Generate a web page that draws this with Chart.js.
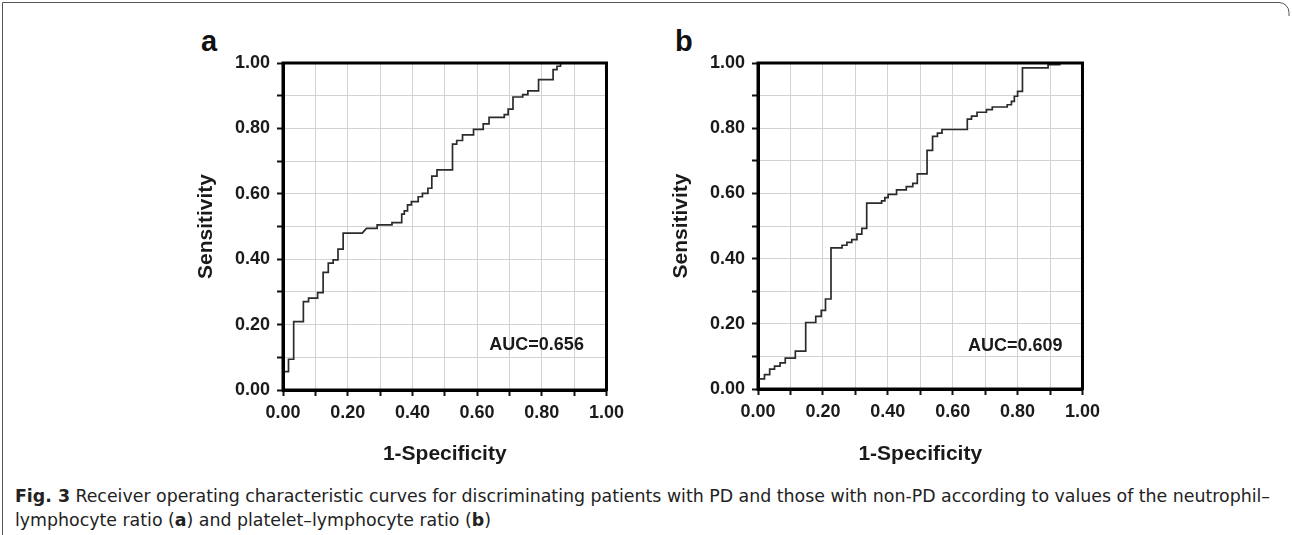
<!DOCTYPE html>
<html><head><meta charset="utf-8">
<script src="https://cdn.jsdelivr.net/npm/chart.js@4.4.1/dist/chart.umd.min.js"></script>
<style>
html,body{margin:0;padding:0;background:#fff;}
body{width:1292px;height:535px;position:relative;overflow:hidden;font-family:"Liberation Sans",Arial,sans-serif;}
#frame{position:absolute;left:0;top:0;}
canvas{position:absolute;}
#ca{left:180px;top:20px;}
#cb{left:655px;top:20px;}
.lbl{position:absolute;font:bold 29px/29px "Liberation Sans",Arial,sans-serif;color:#111;}
#caption{position:absolute;left:15px;top:484px;font-size:17px;line-height:24px;color:#222;white-space:nowrap;
 font-family:"Liberation Sans Narrow","DejaVu Sans Condensed","Roboto Condensed",Roboto,sans-serif;transform-origin:0 0;}
#caption b{font-weight:bold;}
</style>
</head><body>
<svg id="frame" width="1292" height="535"><path d="M2.5 535 L2.5 2.5 L1279 2.5 A10 10 0 0 1 1289 12.5 L1289 16" fill="none" stroke="#555" stroke-width="1"/></svg>
<div class="lbl" style="left:201px;top:27px;">a</div>
<div class="lbl" style="left:675px;top:27px;">b</div>
<canvas id="ca" width="450" height="460"></canvas>
<canvas id="cb" width="451" height="460"></canvas>
<div id="caption"><span id="cl1"><b>Fig. 3</b> Receiver operating characteristic curves for discriminating patients with PD and those with non-PD according to values of the neutrophil–</span><br>lymphocyte ratio (<b>a</b>) and platelet–lymphocyte ratio (<b>b</b>)</div>
<script>
// ---- data ----
const fprA = [0,0,0.017,0.017,0.033,0.033,0.063,0.063,0.079,0.079,0.107,0.107,0.124,0.124,0.140,0.140,0.155,0.155,0.170,0.170,0.186,0.186,0.245,0.258,0.291,0.291,0.337,0.337,0.367,0.367,0.375,0.375,0.385,0.385,0.397,0.397,0.418,0.418,0.431,0.431,0.448,0.448,0.460,0.460,0.476,0.476,0.524,0.524,0.537,0.537,0.555,0.555,0.589,0.589,0.619,0.619,0.637,0.637,0.684,0.684,0.696,0.696,0.711,0.711,0.741,0.741,0.757,0.757,0.790,0.790,0.835,0.835,0.847,0.847,0.858,0.858,1.0];
const tprA = [0,0.056,0.056,0.094,0.094,0.209,0.209,0.270,0.270,0.281,0.281,0.298,0.298,0.360,0.360,0.388,0.388,0.398,0.398,0.431,0.431,0.480,0.480,0.494,0.494,0.505,0.505,0.512,0.512,0.538,0.538,0.548,0.548,0.566,0.566,0.576,0.576,0.591,0.591,0.601,0.601,0.617,0.617,0.654,0.654,0.673,0.673,0.752,0.752,0.763,0.763,0.780,0.780,0.797,0.797,0.814,0.814,0.834,0.834,0.842,0.842,0.859,0.859,0.896,0.896,0.903,0.903,0.915,0.915,0.949,0.949,0.980,0.980,0.990,0.990,1.0,1.0];
const fprB = [0,0,0.020,0.020,0.036,0.036,0.051,0.051,0.068,0.068,0.084,0.084,0.115,0.115,0.147,0.147,0.178,0.178,0.195,0.195,0.208,0.208,0.225,0.225,0.259,0.259,0.274,0.274,0.289,0.289,0.305,0.305,0.320,0.320,0.335,0.335,0.381,0.381,0.391,0.391,0.401,0.401,0.427,0.427,0.457,0.457,0.477,0.477,0.491,0.491,0.521,0.521,0.538,0.538,0.553,0.553,0.567,0.567,0.645,0.645,0.658,0.658,0.675,0.675,0.704,0.704,0.722,0.722,0.768,0.768,0.781,0.781,0.790,0.790,0.800,0.800,0.815,0.815,0.894,0.894,0.930,0.930,1.0];
const tprB = [0,0.031,0.031,0.044,0.044,0.061,0.061,0.070,0.070,0.080,0.080,0.095,0.095,0.116,0.116,0.204,0.204,0.223,0.223,0.241,0.241,0.276,0.276,0.433,0.433,0.441,0.441,0.450,0.450,0.458,0.458,0.475,0.475,0.493,0.493,0.570,0.570,0.577,0.577,0.587,0.587,0.597,0.597,0.611,0.611,0.621,0.621,0.631,0.631,0.660,0.660,0.732,0.732,0.775,0.775,0.785,0.785,0.796,0.796,0.828,0.828,0.837,0.837,0.849,0.849,0.857,0.857,0.865,0.865,0.872,0.872,0.882,0.882,0.898,0.898,0.913,0.913,0.985,0.985,0.995,0.995,1.0,1.0];
const tickValues = [0,0.2,0.4,0.6,0.8,1.0];
const tickLabels = ['0.00','0.20','0.40','0.60','0.80','1.00'];
const aucA = 'AUC=0.656';
const aucB = 'AUC=0.609';
const xTitle = '1-Specificity';
const yTitle = 'Sensitivity';

// ---- drawing ----
const FONT = '"Liberation Sans", Arial, sans-serif';
function tickCb(v){
  const i = tickValues.findIndex(t => Math.abs(t - v) < 1e-6);
  return i >= 0 ? tickLabels[i] : '';
}
const framePlugin = {
  id: 'frame',
  afterDatasetsDraw(chart){
    const {ctx, chartArea:a} = chart;
    ctx.save();
    ctx.strokeStyle = '#000'; ctx.lineWidth = 3;
    ctx.strokeRect(a.left, a.top, a.right - a.left, a.bottom - a.top);
    ctx.restore();
  }
};
const aucPlugin = {
  id: 'auc',
  afterDatasetsDraw(chart, args, opts){
    const {ctx, scales:{x, y}} = chart;
    ctx.save();
    ctx.font = 'bold 18px ' + FONT;
    ctx.fillStyle = '#1a1a1a';
    ctx.textAlign = 'center'; ctx.textBaseline = 'middle';
    ctx.fillText(opts.text, x.getPixelForValue(opts.x), y.getPixelForValue(opts.y));
    ctx.restore();
  }
};
function makeChart(id, fpr, tpr, auc, aucX, aucY, geo){
  const pts = fpr.map((x, i) => ({x, y: tpr[i]}));
  const tickFont = {family: FONT, size: 18, weight: 'bold'};
  const titleFont = {family: FONT, size: 21, weight: 'bold'};
  return new Chart(document.getElementById(id), {
    type: 'scatter',
    data: {datasets: [{data: pts, showLine: true, pointRadius: 0, borderColor: '#2b2b2b', borderWidth: 1.7, fill: false, tension: 0}]},
    options: {
      responsive: false, animation: false, devicePixelRatio: 1,
      layout: {padding: {top: geo.top, right: geo.right, left: 0, bottom: 0}},
      plugins: {legend: {display: false}, tooltip: {enabled: false}, auc: {text: auc, x: aucX, y: aucY}},
      scales: {
        x: {
          type: 'linear', min: 0, max: 1, position: 'bottom',
          ticks: {stepSize: 0.1, autoSkip: false, maxRotation: 0, padding: 6, color: '#1a1a1a', font: tickFont, callback: tickCb},
          grid: {color: '#d2d2d2', lineWidth: 1, tickColor: '#111', tickWidth: 2, tickLength: 6},
          border: {display: true, color: '#000', width: 3},
          title: {display: true, text: xTitle, color: '#1a1a1a', font: titleFont, padding: {top: 0, bottom: 13}},
          afterFit: s => { s.height = geo.xh; }
        },
        y: {
          type: 'linear', min: 0, max: 1, position: 'left',
          ticks: {stepSize: 0.1, autoSkip: false, padding: 7, color: '#1a1a1a', font: tickFont, callback: tickCb},
          grid: {color: '#d2d2d2', lineWidth: 1, tickColor: '#111', tickWidth: 2, tickLength: 6},
          border: {display: true, color: '#000', width: 3},
          title: {display: true, text: yTitle, color: '#1a1a1a', font: titleFont, padding: {top: 14, bottom: 0}},
          afterFit: s => { s.width = geo.yw; }
        }
      }
    },
    plugins: [framePlugin, aucPlugin]
  });
}
makeChart('ca', fprA, tprA, aucA, 0.784, 0.138, {top: 43, right: 19, xh: 90, yw: 103});
makeChart('cb', fprB, tprB, aucB, 0.793, 0.133, {top: 43, right: 19, xh: 91, yw: 103});

// fit caption first line to its width in the figure
const cap = document.getElementById('caption');
const w = document.getElementById('cl1').getBoundingClientRect().width;
cap.style.transform = 'scaleX(' + (1255 / w) + ')';
</script>
</body></html>
